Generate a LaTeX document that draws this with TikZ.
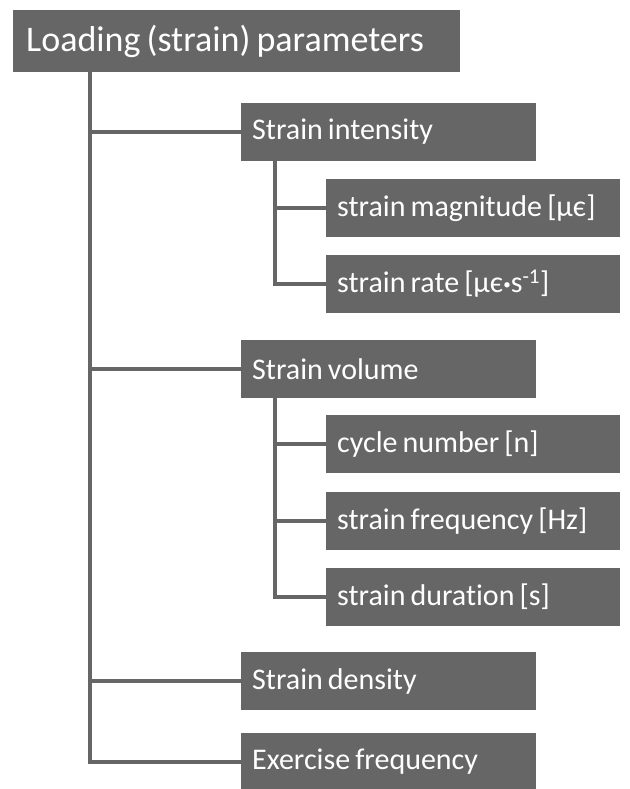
\documentclass[tikz,border=0pt]{standalone}
\usepackage{fontspec}
\setmainfont{Carlito}[Ligatures=CommonOff]
\usetikzlibrary{calc}
\definecolor{boxgray}{RGB}{102,102,102}
% narrower word gaps
\newcommand{\tightsp}{\spaceskip=0.17em\relax}
\tikzset{
  rootbox/.style={fill=boxgray, text=white, anchor=west, inner xsep=13pt, inner ysep=0pt,
    text width=421pt, minimum height=62pt, align=left,
    font=\fontsize{36}{40}\selectfont, execute at begin node=\tightsp},
  groupbox/.style={fill=boxgray, text=white, anchor=west, inner xsep=11pt, inner ysep=0pt,
    text width=273pt, minimum height=58pt, align=left,
    font=\fontsize{30}{34}\selectfont, execute at begin node=\tightsp},
  leafbox/.style={groupbox, text width=272pt},
  twig/.style={draw=boxgray, line width=3.5pt}
}
% elbow from the parent's bottom edge (at an x offset) to the child's left side
\newcommand{\twig}[3]{
\draw[twig] ($(#1.south west)+(#2,0)$) |- (#3.west);
}
% small centred dot
\newcommand{\mdot}{\raisebox{0.12em}{\fontsize{15}{15}\selectfont •}}

\begin{document}
\begin{tikzpicture}[x=1pt,y=-1pt]
\useasboundingbox (0,0) rectangle (629,789);

% root
\node[rootbox] (load) at (13,41) {Loading (strain) parameters};

% intensity
\node[groupbox] (int) at (241,132) {Strain intensity};
\node[leafbox] (mag) at (326,208) {strain magnitude [μє]};
\node[leafbox] (rate) at (326,284) {strain rate [μє\mdot s\textsuperscript{-1}]};

% volume
\node[groupbox] (vol) at (241,369) {Strain volume};
\node[leafbox] (cyc) at (326,444) {cycle number [n]};
\node[leafbox] (freq) at (326,521) {strain frequency [Hz]};
\node[leafbox] (dur) at (326,597) {strain duration [s]};

% the rest
\node[groupbox] (dens) at (241,681) {Strain density};
\node[groupbox] (exer) at (241,762) {Exercise frequency};

\twig{load}{77}{int}
\twig{load}{77}{vol}
\twig{load}{77}{dens}
\twig{load}{77}{exer}

\twig{int}{34}{mag}
\twig{int}{34}{rate}

\twig{vol}{34}{cyc}
\twig{vol}{34}{freq}
\twig{vol}{34}{dur}
\end{tikzpicture}
\end{document}
